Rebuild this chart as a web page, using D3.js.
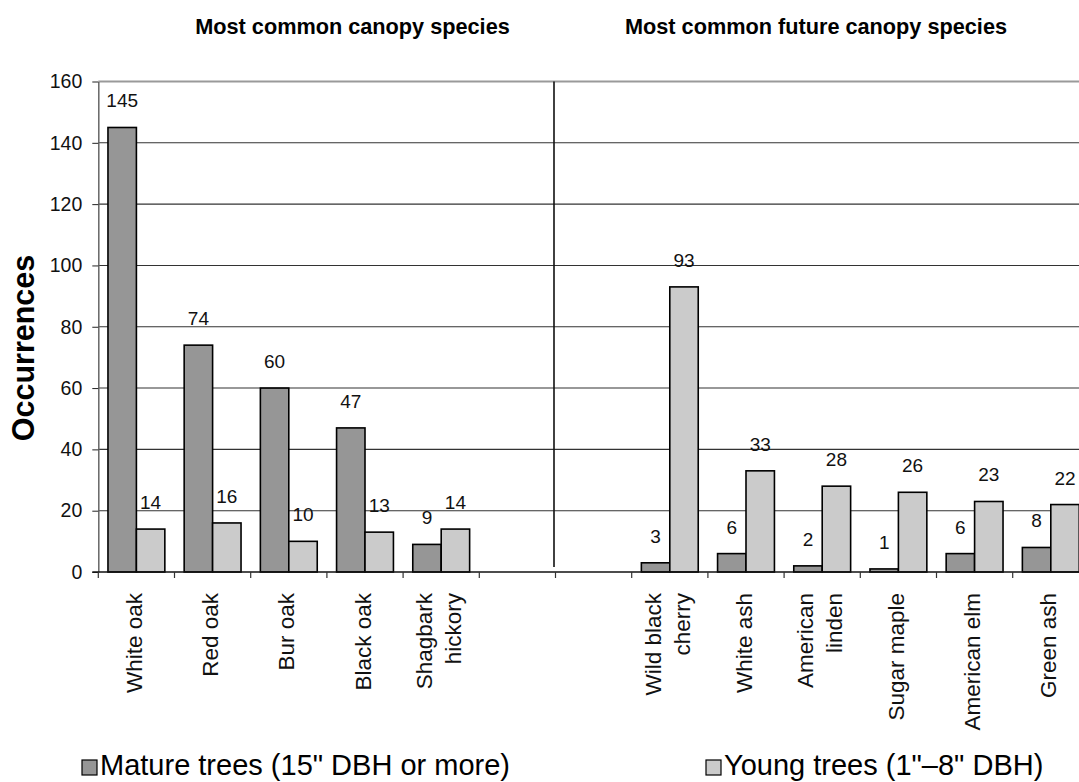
<!DOCTYPE html>
<html>
<head>
<meta charset="utf-8">
<script src="https://cdn.jsdelivr.net/npm/d3@7.9.0/dist/d3.min.js"></script>
<style>
  html, body { margin: 0; padding: 0; background: #fff; }
  svg { display: block; font-family: "Liberation Sans", Arial, sans-serif; }
</style>
</head>
<body>
<svg id="chart" width="1079" height="782"></svg>
<script>
// chart data
const categoryLines = [
  ['White oak'], ['Red oak'], ['Bur oak'], ['Black oak'], ['Shagbark', 'hickory'],
  [], [],
  ['Wild black', 'cherry'], ['White ash'], ['American', 'linden'], ['Sugar maple'],
  ['American elm'], ['Green ash']
];
const matureValues = [145, 74, 60, 47, 9, null, null, 3, 6, 2, 1, 6, 8];
const youngValues = [14, 16, 10, 13, 14, null, null, 93, 33, 28, 26, 23, 22];
const yTicks = [0, 20, 40, 60, 80, 100, 120, 140, 160];
const groupTitles = ['Most common canopy species', 'Most common future canopy species'];
const legendLabels = ['Mature trees (15" DBH or more)', 'Young trees (1"\u20138" DBH)'];
const seriesKeys = ['mature', 'young'];
const seriesFill = { mature: '#969696', young: '#cbcbcb' };

const svg = d3.select('#chart');

const plotLeft = 98.3, plotTop = 81.5, plotBottom = 572, step = 76.2;

let y = d3.scaleLinear().domain([0, 160]).range([plotBottom, plotTop]);
let x = d3.scaleBand()
  .domain(d3.range(categoryLines.length))
  .range([plotLeft, plotLeft + step * categoryLines.length])
  .padding(0);
let xs = d3.scaleBand().domain(seriesKeys).range([0, x.bandwidth()])
  .paddingInner(0).paddingOuter(0.34);

// gridlines
svg.append('g')
  .selectAll('line')
  .data(yTicks.filter(d => d > 0 && d < 160))
  .join('line')
  .attr('x1', plotLeft).attr('x2', 1079)
  .attr('y1', d => y(d)).attr('y2', d => y(d))
  .attr('stroke', '#333').attr('stroke-width', 1.1);

// top border of plot area
svg.append('line')
  .attr('x1', plotLeft).attr('x2', 1079)
  .attr('y1', y(160)).attr('y2', y(160))
  .attr('stroke', '#9a9a9a').attr('stroke-width', 2);

// y axis
let yAxis = svg.append('g')
  .attr('transform', `translate(${plotLeft},0)`)
  .call(d3.axisLeft(y).tickValues(yTicks).tickSize(6).tickPadding(10).tickSizeOuter(0));
yAxis.select('.domain').attr('stroke', '#666').attr('stroke-width', 1.5);
yAxis.selectAll('.tick line').attr('stroke', '#222');
yAxis.selectAll('.tick text')
  .attr('font-size', 19.5).attr('fill', '#111')
  .style('font-family', '"Liberation Sans", Arial, sans-serif');

// separator between the two groups
svg.append('line')
  .attr('x1', x(6) - 1.5).attr('x2', x(6) - 1.5)
  .attr('y1', y(160)).attr('y2', y(0) - 5)
  .attr('stroke', '#111').attr('stroke-width', 1.6);

// bars
const barData = [];
categoryLines.forEach((_, i) => {
  if (matureValues[i] != null) barData.push({ i, key: 'mature', value: matureValues[i] });
  if (youngValues[i] != null) barData.push({ i, key: 'young', value: youngValues[i] });
});

svg.append('g')
  .selectAll('rect')
  .data(barData)
  .join('rect')
  .attr('x', d => x(d.i) + xs(d.key))
  .attr('width', xs.bandwidth())
  .attr('y', d => y(d.value))
  .attr('height', d => y(0) - y(d.value))
  .attr('fill', d => seriesFill[d.key])
  .attr('stroke', '#000')
  .attr('stroke-width', 1.6);

// value labels
svg.append('g')
  .selectAll('text')
  .data(barData)
  .join('text')
  .attr('x', d => x(d.i) + xs(d.key) + xs.bandwidth() / 2)
  .attr('y', d => y(d.value) - 20)
  .attr('text-anchor', 'middle')
  .attr('font-size', 19)
  .attr('fill', '#111')
  .text(d => d.value);

// baseline and category ticks
svg.append('line')
  .attr('x1', plotLeft - 6).attr('x2', 1079)
  .attr('y1', y(0)).attr('y2', y(0))
  .attr('stroke', '#111').attr('stroke-width', 1.6);

svg.append('g')
  .selectAll('line')
  .data(d3.range(categoryLines.length + 1))
  .join('line')
  .attr('x1', k => plotLeft + k * x.step()).attr('x2', k => plotLeft + k * x.step())
  .attr('y1', y(0)).attr('y2', y(0) + 6)
  .attr('stroke', '#333').attr('stroke-width', 1.2);

// category labels, rotated
let catG = svg.append('g')
  .selectAll('g')
  .data(categoryLines)
  .join('g')
  .attr('transform', (d, i) => `translate(${x(i) + x.bandwidth() / 2},593) rotate(-90)`);

catG.each(function (lines) {
  const n = lines.length;
  d3.select(this).selectAll('text')
    .data(lines)
    .join('text')
    .attr('x', 0)
    .attr('y', (t, j) => (j - (n - 1) / 2) * 29)
    .attr('dy', '0.25em')
    .attr('text-anchor', 'end')
    .attr('font-size', 22.5)
    .attr('fill', '#111')
    .text(t => t);
});

// group titles
svg.selectAll('.group-title')
  .data(groupTitles)
  .join('text')
  .attr('class', 'group-title')
  .attr('x', (d, i) => i === 0 ? 352.5 : 816)
  .attr('y', 33.5)
  .attr('text-anchor', 'middle')
  .attr('font-size', 21.7)
  .attr('font-weight', 'bold')
  .attr('fill', '#000')
  .text(d => d);

// y axis title
svg.append('text')
  .attr('transform', 'translate(34,348) rotate(-90)')
  .attr('text-anchor', 'middle')
  .attr('font-size', 30.5)
  .attr('font-weight', 'bold')
  .attr('fill', '#000')
  .text('Occurrences');

// legend
const legendX = [82, 706];
let legend = svg.append('g')
  .selectAll('g')
  .data(seriesKeys)
  .join('g')
  .attr('transform', (d, i) => `translate(${legendX[i]},760)`);

legend.append('rect')
  .attr('width', 15).attr('height', 15)
  .attr('fill', d => seriesFill[d])
  .attr('stroke', '#000').attr('stroke-width', 1.2);

legend.append('text')
  .attr('x', 18)
  .attr('y', 15)
  .attr('font-size', 29)
  .attr('fill', '#000')
  .text((d, i) => legendLabels[i]);
</script>
</body>
</html>
